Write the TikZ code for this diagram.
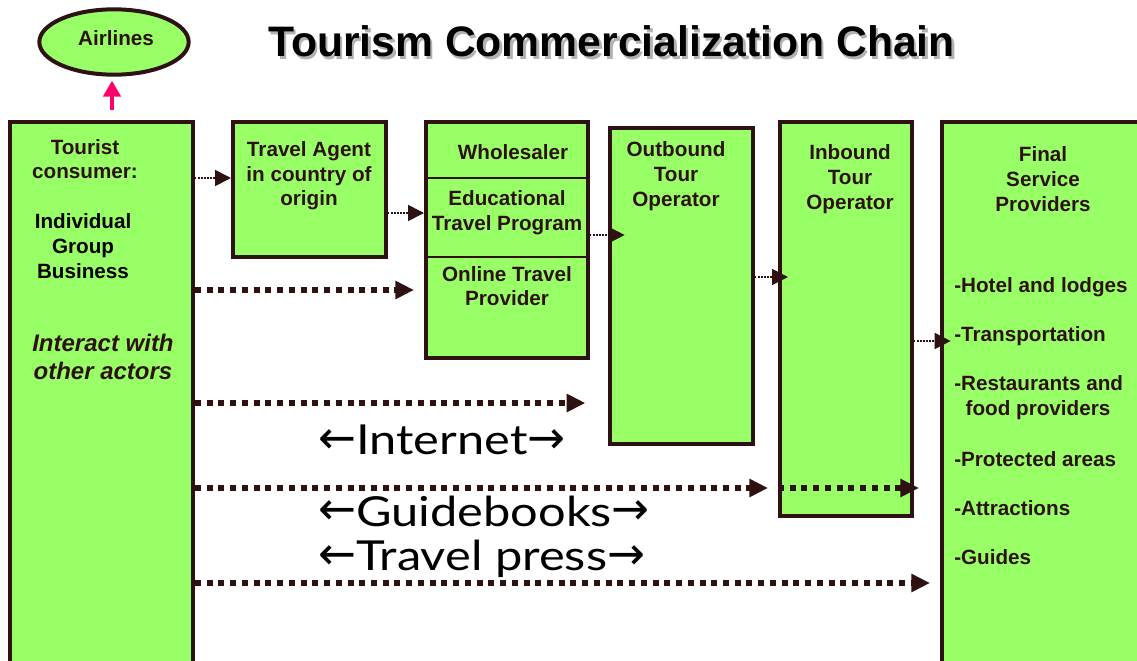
\documentclass[tikz,border=0pt]{standalone}
\usepackage{fontspec}
\setmainfont{Liberation Sans}
\newfontfamily\labfont{Lato}
\newfontfamily\arrfont{DejaVu Sans}
\usetikzlibrary{arrows.meta,shapes.geometric,fit,calc}
\definecolor{boxgreen}{HTML}{99FF66}
\definecolor{edge}{HTML}{2E1212}
\definecolor{pinkarrow}{HTML}{FF0066}
\newcommand{\larr}{{\arrfont\fontsize{34}{34}\selectfont\raisebox{1pt}{←}}}
\newcommand{\rarr}{{\arrfont\fontsize{34}{34}\selectfont\raisebox{1pt}{→}}}
\newcommand{\wide}[1]{\scalebox{1.18}[1]{#1}}
\begin{document}
\begin{tikzpicture}[x=0.75pt,y=-0.75pt,
 box/.style={draw=edge, fill=boxgreen, line width=3pt, inner sep=0pt},
 txt/.style={text=edge, font=\bfseries\fontsize{15.5}{18.5}\selectfont, align=center, inner sep=0pt},
 itm/.style={text=edge, font=\bfseries\fontsize{15.5}{18.5}\selectfont, align=left, inner sep=0pt, anchor=west},
 dotsmall/.style={draw=edge, line width=1.3pt, dash pattern=on 1.1pt off 1.2pt, -{Triangle[length=12pt,width=12pt]}},
 dotbig/.style={draw=edge, line width=4.5pt, dash pattern=on 4.5pt off 4.3pt, -{Triangle[length=14pt,width=13pt]}},
 lab/.style={font=\labfont\fontsize{31}{31}\selectfont, inner sep=0pt, anchor=west},
 ttl/.style={font=\bfseries\fontsize{32}{32}\selectfont, inner sep=0pt}
]
\useasboundingbox (0,0) rectangle (1137,660);
\fill[white] (0,0) rectangle (1137,660);
\clip (0,0) rectangle (1137,660);

% title
\node[ttl, text=black!30] (titleshadow) at (614,44) {Tourism Commercialization Chain};
\node[ttl, text=black] (title) at (611.5,41.5) {Tourism Commercialization Chain};

% boxes
\node[box, fit={(10,122)(193,720)}] (tourist) {};
\node[box, fit={(233,122)(386,257)}] (agent) {};
\node[box, fit={(426,122)(588,358)}] (whole) {};
\node[box, fit={(610,128)(753,444)}] (outb) {};
\node[box, fit={(780,122)(912,516)}] (inb) {};
\node[box, fit={(942,122)(1200,720)}] (final) {};
\draw[edge, line width=2.2pt] (whole.west |- 0,178) -- (whole.east |- 0,178);
\draw[edge, line width=2.2pt] (whole.west |- 0,257) -- (whole.east |- 0,257);

% airlines
\node[ellipse, draw=edge, fill=boxgreen, line width=3pt, minimum width=112pt, minimum height=49pt, inner sep=0pt] (airlines) at (114,42) {};
\node[txt] (airtxt) at (116,38) {Airlines};
\draw[pinkarrow, line width=3pt, -{Triangle[length=12pt,width=13pt]}, shorten <=7.5pt, shorten >=3pt] (tourist.north -| 112,0) -- (airlines.south -| 112,0);

% texts
\node[txt] (tourtxt) at (85,159) {Tourist\\consumer:};
\node[txt, text=black] (segtxt) at (83,246) {Individual\\Group\\Business};
\node[txt, font=\bfseries\itshape\fontsize{18}{21}\selectfont] (inttxt) at (103,357) {Interact with\\other actors};
\node[txt] (agtxt) at (309,176) {Travel Agent\\in country of\\origin};
\node[txt] (whtxt) at (513,152) {Wholesaler};
\node[txt] (edtxt) at (507,213) {Educational\\Travel Program};
\node[txt] (ontxt) at (507,286) {Online Travel\\Provider};
\node[txt] (obtxt) at (676,176) {Outbound\\Tour\\Operator};
\node[txt] (ibtxt) at (850,179) {Inbound\\Tour\\Operator};
\node[txt] (fntxt) at (1043,179) {Final\\Service\\Providers};
\node[itm] (i1) at (954,287) {-Hotel and lodges};
\node[itm] (i2) at (954,336) {-Transportation};
\node[itm] (i3) at (954,397.5) {-Restaurants and\\\hspace*{0.55em}food providers};
\node[itm] (i4) at (954,459) {-Protected areas};
\node[itm] (i5) at (954,508) {-Attractions};
\node[itm] (i6) at (954,557) {-Guides};

% labels
\node[lab] (l1) at (318,440) {\larr\wide{Internet}\rarr};
\node[lab] (l2) at (318,511) {\larr\wide{Guidebooks}\rarr};
\node[lab] (l3) at (318,559) {\larr\wide{Travel press}\rarr};

% thin connectors
\draw[dotsmall] (tourist.east |- 0,178) -- (agent.west |- 0,178);
\draw[dotsmall] (agent.east |- 0,213) -- (whole.west |- 0,213);
\draw[dotsmall, shorten >=-12.5pt] (whole.east |- 0,235) -- (outb.west |- 0,235);
\draw[dotsmall, shorten >=-7.5pt] (outb.east |- 0,277) -- (inb.west |- 0,277);
\draw[dotsmall, shorten >=-8pt] (inb.east |- 0,341) -- (final.west |- 0,341);

% thick connectors
\draw[dotbig, shorten >=7.5pt] (tourist.east |- 0,290) -- (whole.west |- 0,290);
\draw[dotbig, shorten >=17pt] (tourist.east |- 0,403) -- (outb.west |- 0,403);
\draw[dotbig, shorten >=7.5pt] (tourist.east |- 0,488) -- (inb.west |- 0,488);
\draw[dotbig, shorten >=15.75pt] (inb.west |- 0,488) -- (final.west |- 0,488);
\draw[dotbig, shorten >=7.5pt] (tourist.east |- 0,583) -- (final.west |- 0,583);
\end{tikzpicture}
\end{document}
